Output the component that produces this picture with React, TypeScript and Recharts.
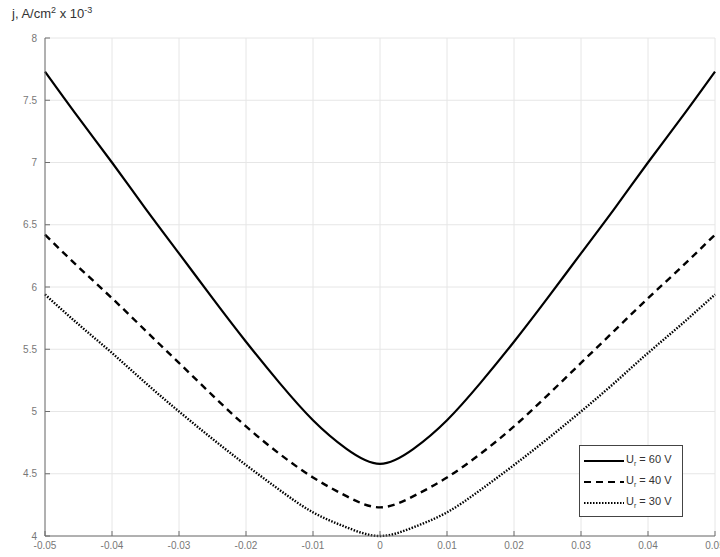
import React from 'react';
import {
  LineChart, Line, XAxis, YAxis, CartesianGrid
} from 'recharts';

// scan position, j in A/cm^2 x 10^-3
const xValues = [-0.05, -0.045, -0.04, -0.035, -0.03, -0.025, -0.02, -0.015, -0.01, -0.005, 0,
  0.005, 0.01, 0.015, 0.02, 0.025, 0.03, 0.035, 0.04, 0.045, 0.05];
const j60 = [7.73, 7.36, 7.0, 6.63, 6.27, 5.91, 5.56, 5.23, 4.93, 4.7, 4.58,
  4.7, 4.93, 5.23, 5.56, 5.91, 6.27, 6.63, 7.0, 7.36, 7.73];
const j40 = [6.42, 6.16, 5.91, 5.65, 5.39, 5.13, 4.88, 4.66, 4.47, 4.32, 4.23,
  4.32, 4.47, 4.66, 4.88, 5.13, 5.39, 5.65, 5.91, 6.16, 6.42];
const j30 = [5.94, 5.7, 5.47, 5.23, 5.0, 4.78, 4.57, 4.37, 4.19, 4.07, 4.0,
  4.07, 4.19, 4.37, 4.57, 4.78, 5.0, 5.23, 5.47, 5.7, 5.94];

const xTicks = [-0.05, -0.04, -0.03, -0.02, -0.01, 0, 0.01, 0.02, 0.03, 0.04, 0.05];
const yTicks = [4, 4.5, 5, 5.5, 6, 6.5, 7, 7.5, 8];

const seriesLabels = ['60 V', '40 V', '30 V'];
const dashes = ['', '7 5', '1.5 1.5'];

const data = xValues.map((x, i) => ({ x, j60: j60[i], j40: j40[i], j30: j30[i] }));

const FONT = '"Liberation Sans", Arial, Helvetica, sans-serif';
const AXIS = '#6e6e6e';
const TICK_TEXT = { fill: '#777', fontSize: 10, fontFamily: FONT };

const fmtX = (v: number) => (Math.abs(v) < 1e-9 ? '0' : v.toFixed(2));
const fmtY = (v: number) => (Number.isInteger(v) ? String(v) : v.toFixed(1));

const LegendBox = () => (
  <div
    style={{
      position: 'absolute',
      left: 579,
      top: 445,
      border: '1px solid #444',
      background: '#fff',
      padding: '4px 4px 3px 4px',
      fontFamily: FONT,
      fontSize: 11,
      color: '#333',
      width: 94,
    }}
  >
    {seriesLabels.map((lbl, i) => (
      <div key={lbl} style={{ display: 'flex', alignItems: 'center', height: 21 }}>
        <svg width={40} height={8} style={{ marginRight: 2 }}>
          <line
            x1={0} y1={4} x2={40} y2={4}
            stroke="#000" strokeWidth={2.2}
            strokeDasharray={dashes[i] || undefined}
          />
        </svg>
        <span>
          U<sub style={{ fontSize: 7 }}>r</sub> = {lbl}
        </span>
      </div>
    ))}
  </div>
);

export default function App() {
  return (
    <div style={{ position: 'absolute', left: 0, top: 0, width: 720, height: 557, background: '#fff' }}>
      <div
        style={{
          position: 'absolute', left: 12, top: 5, fontFamily: FONT,
          fontSize: 13, color: '#333', whiteSpace: 'nowrap',
        }}
      >
        j, A/cm<sup style={{ fontSize: 9 }}>2</sup> x 10<sup style={{ fontSize: 9 }}>-3</sup>
      </div>
      <LineChart
        width={720}
        height={557}
        data={data}
        margin={{ top: 38, right: 5, left: 5, bottom: 1 }}
      >
        <CartesianGrid xAxisId="b" yAxisId="l" stroke="#e6e6e6" strokeWidth={1} />
        <XAxis
          xAxisId="b"
          dataKey="x"
          type="number"
          domain={[-0.05, 0.05]}
          ticks={xTicks}
          tickFormatter={fmtX}
          height={20}
          stroke={AXIS}
          tickSize={-5}
          tickMargin={11}
          tick={TICK_TEXT}
          interval={0}
        />
        <XAxis
          xAxisId="t"
          dataKey="x"
          type="number"
          orientation="top"
          domain={[-0.05, 0.05]}
          ticks={xTicks}
          height={0}
          stroke={AXIS}
          tickSize={-5}
          tick={false}
          interval={0}
        />
        <YAxis
          yAxisId="l"
          type="number"
          domain={[4, 8]}
          ticks={yTicks}
          tickFormatter={fmtY}
          width={40}
          stroke={AXIS}
          tickSize={-5}
          tickMargin={13}
          tick={TICK_TEXT}
          interval={0}
        />
        <YAxis
          yAxisId="r"
          type="number"
          orientation="right"
          domain={[4, 8]}
          ticks={yTicks}
          width={0}
          stroke={AXIS}
          tickSize={-5}
          tick={false}
          interval={0}
        />
        <Line xAxisId="b" yAxisId="l" dataKey="j60" type="natural" stroke="#000" strokeWidth={2.2}
          dot={false} isAnimationActive={false} />
        <Line xAxisId="b" yAxisId="l" dataKey="j40" type="natural" stroke="#000" strokeWidth={2.4}
          strokeDasharray="7 5" dot={false} isAnimationActive={false} />
        <Line xAxisId="b" yAxisId="l" dataKey="j30" type="natural" stroke="#000" strokeWidth={2.4}
          strokeDasharray="1.5 1.5" dot={false} isAnimationActive={false} />
      </LineChart>
      <LegendBox />
    </div>
  );
}
